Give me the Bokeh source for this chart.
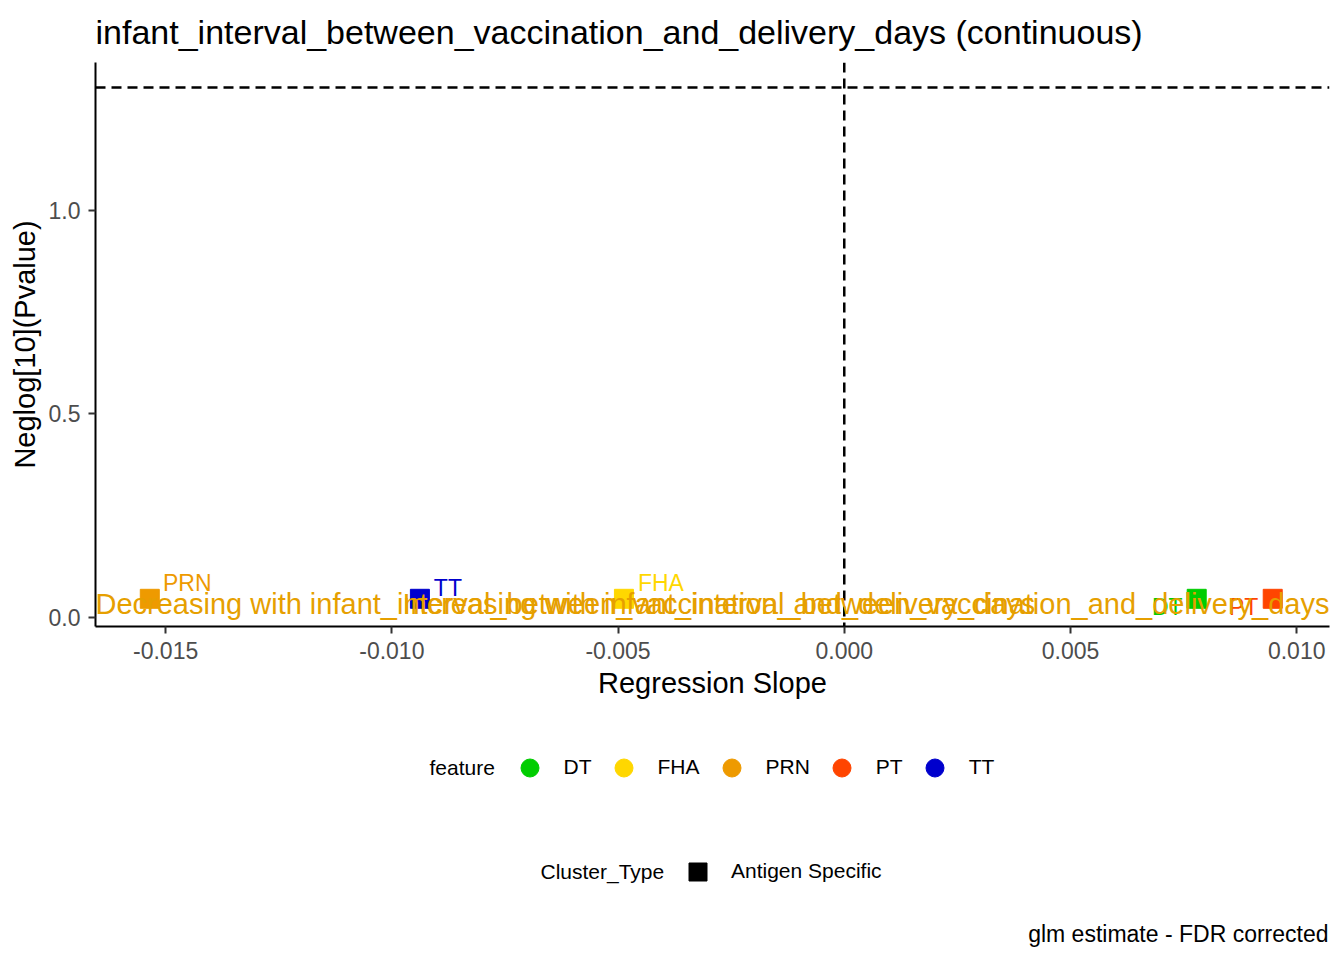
import math
from bokeh.plotting import figure
from bokeh.layouts import column
from bokeh.models import (Span, Label, Legend, LegendItem, ColumnDataSource,
                          FixedTicker, CustomJSTickFormatter, Range1d)
from bokeh.embed import file_html
from bokeh.resources import INLINE
from bokeh.core.properties import value

# ---------------- data ----------------
TITLE = "infant_interval_between_vaccination_and_delivery_days (continuous)"
X_LABEL = "Regression Slope"
Y_LABEL = "Neglog[10](Pvalue)"
CAPTION = "glm estimate - FDR corrected"
TEXT_DEC = "Decreasing with infant_interval_between_vaccination_and_delivery_days"
TEXT_INC = "Increasing with infant_interval_between_vaccination_and_delivery_days"

features = ["PRN", "TT", "FHA", "DT", "PT"]
slopes = [-0.01535, -0.00938, -0.00487, 0.00779, 0.00947]
neglog_p = [0.046, 0.046, 0.046, 0.046, 0.046]
cluster_types = ["Antigen Specific"]

legend_features = ["DT", "FHA", "PRN", "PT", "TT"]
feature_colors = {"DT": "#00CD00", "FHA": "#FFD700", "PRN": "#EE9A00",
                  "PT": "#FF4500", "TT": "#0000CD"}

P_THRESHOLD = 0.05
x_ticks = [-0.015, -0.010, -0.005, 0.0, 0.005, 0.010]
y_ticks = [0.0, 0.5, 1.0]
X_RANGE = (-0.01655, 0.010725)
Y_RANGE = (-0.022, 1.3626)

# label (repel) offsets in screen pixels
label_dx = [37.5, 28, 37, -29.5, -29]
label_dy = [-16, -11, -16, 8, 8]

FONT = "Liberation Sans"
ANNOT_COLOR = "#E69F00"

# ---------------- main figure ----------------
p = figure(width=1344, height=708, output_backend="svg", toolbar_location=None,
           x_range=Range1d(*X_RANGE), y_range=Range1d(*Y_RANGE),
           min_border_left=95, min_border_right=15, min_border_top=62,
           min_border_bottom=82, title=TITLE)

p.title.text_font = FONT
p.title.text_font_size = "34px"
p.title.text_font_style = "normal"
p.title.text_color = "black"
p.title.align = "left"
p.title.vertical_align = "top"
p.title.standoff = 19

p.outline_line_color = None
p.xgrid.grid_line_color = None
p.ygrid.grid_line_color = None
p.background_fill_color = "white"
p.border_fill_color = "white"

p.xaxis.ticker = FixedTicker(ticks=x_ticks)
p.yaxis.ticker = FixedTicker(ticks=y_ticks)
p.xaxis.formatter = CustomJSTickFormatter(code="return tick.toFixed(3);")
p.yaxis.formatter = CustomJSTickFormatter(code="return tick.toFixed(1);")
p.xaxis.axis_label = X_LABEL
p.yaxis.axis_label = Y_LABEL

for ax in (p.xaxis, p.yaxis):
    ax.axis_line_color = "black"
    ax.axis_line_width = 2
    ax.major_tick_line_color = "#333333"
    ax.major_tick_line_width = 2
    ax.major_tick_out = 7
    ax.major_tick_in = 0
    ax.minor_tick_line_color = None
    ax.major_label_text_font = FONT
    ax.major_label_text_font_size = "23px"
    ax.major_label_text_color = "#4D4D4D"
    ax.axis_label_text_font = FONT
    ax.axis_label_text_font_size = "29px"
    ax.axis_label_text_font_style = "normal"
    ax.axis_label_text_color = "black"

p.xaxis.major_label_standoff = 8
p.xaxis.axis_label_standoff = 5
p.yaxis.major_label_standoff = 8
p.yaxis.axis_label_standoff = 5

# threshold lines
p.add_layout(Span(location=0, dimension="height", line_color="black",
                  line_width=2.5, line_dash="10 6"))
p.add_layout(Span(location=-math.log10(P_THRESHOLD), dimension="width",
                  line_color="black", line_width=2.5, line_dash="10 6"))

# points
src = ColumnDataSource(dict(
    x=slopes, y=neglog_p, feature=features,
    color=[feature_colors[f] for f in features],
    dx=label_dx, dy=label_dy,
))
p.scatter("x", "y", source=src, marker="square", size=19,
          fill_color="color", line_color="color")

# repel-style labels
p.text(x="x", y="y", text="feature", source=src, x_offset="dx", y_offset="dy",
       text_color="color", text_font=value(FONT), text_font_size=value("23px"),
       text_align="center", text_baseline="alphabetic")

# direction annotations
p.add_layout(Label(x=X_RANGE[0], y=22.6, x_units="data", y_units="screen",
                   text=TEXT_DEC, text_align="left", text_baseline="alphabetic",
                   text_color=ANNOT_COLOR, text_font=FONT, text_font_size="29px"))
p.add_layout(Label(x=X_RANGE[1], y=22.6, x_units="data", y_units="screen",
                   text=TEXT_INC, text_align="right", text_baseline="alphabetic",
                   text_color=ANNOT_COLOR, text_font=FONT, text_font_size="29px"))

# ---------------- legend / caption panel ----------------
# (this panel's frame is aligned with the main plot's frame: x measured from it)
p2 = figure(width=1344, height=252, output_backend="svg", toolbar_location=None,
            x_range=Range1d(0, 1234), y_range=Range1d(0, 252),
            x_axis_location=None, y_axis_location=None, min_border=0)
p2.outline_line_color = None
p2.grid.visible = False
p2.background_fill_color = "white"
p2.border_fill_color = "white"

items = []
for f in legend_features:
    r = p2.scatter(x=[math.nan], y=[math.nan], marker="circle", size=18,
                   fill_color=feature_colors[f], line_color=feature_colors[f])
    items.append(LegendItem(label=value(f), renderers=[r]))
leg1 = Legend(items=items, orientation="horizontal", location=(411.5, 170.5),
              glyph_width=45, glyph_height=45, label_standoff=12, spacing=9,
              padding=0, margin=0, border_line_alpha=0, background_fill_alpha=0,
              label_text_font=FONT, label_text_font_size="21px",
              label_text_color="black")
p2.add_layout(leg1)
p2.add_layout(Label(x=334, y=193, x_units="screen", y_units="screen",
                    text="feature", text_align="left", text_baseline="alphabetic",
                    text_color="black", text_font=FONT, text_font_size="21px"))

items2 = []
for c in cluster_types:
    r = p2.scatter(x=[math.nan], y=[math.nan], marker="square", size=18,
                   fill_color="black", line_color="black")
    items2.append(LegendItem(label=value(c), renderers=[r]))
leg2 = Legend(items=items2, orientation="horizontal", location=(580, 66.5),
              glyph_width=45, glyph_height=45, label_standoff=11, spacing=9,
              padding=0, margin=0, border_line_alpha=0, background_fill_alpha=0,
              label_text_font=FONT, label_text_font_size="21px",
              label_text_color="black")
p2.add_layout(leg2)
p2.add_layout(Label(x=445, y=89, x_units="screen", y_units="screen",
                    text="Cluster_Type", text_align="left", text_baseline="alphabetic",
                    text_color="black", text_font=FONT, text_font_size="21px"))

p2.add_layout(Label(x=1233, y=27, x_units="screen", y_units="screen",
                    text=CAPTION, text_align="right", text_baseline="alphabetic",
                    text_color="black", text_font=FONT, text_font_size="23px"))

layout = column(p, p2, spacing=0)
open("out.html", "w").write(file_html(layout, INLINE))
